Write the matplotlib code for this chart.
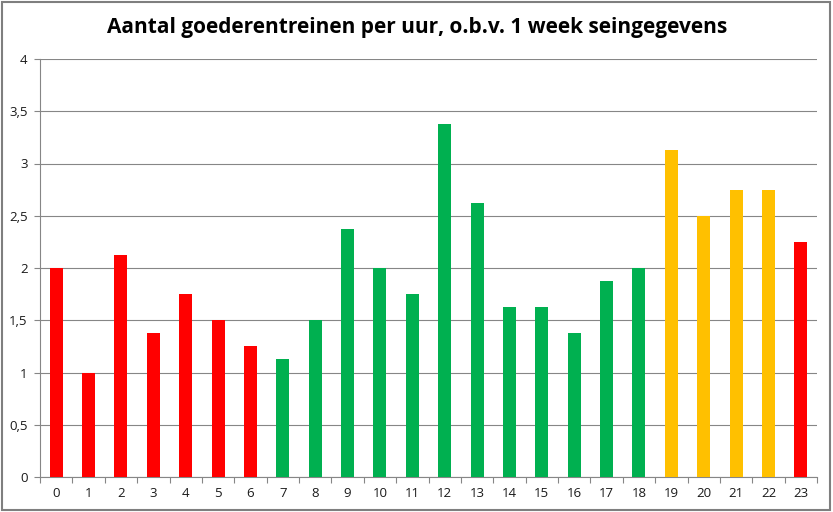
import matplotlib
matplotlib.use("Agg")
import matplotlib.pyplot as plt
from matplotlib.patches import Rectangle
from matplotlib.ticker import FixedLocator, NullFormatter

hours = [str(h) for h in range(24)]
values = [2, 1, 2.125, 1.375, 1.75, 1.5, 1.25, 1.125, 1.5, 2.375, 2, 1.75,
          3.375, 2.625, 1.625, 1.625, 1.375, 1.875, 2, 3.125, 2.5, 2.75, 2.75, 2.25]
groups = ['r'] * 7 + ['g'] * 12 + ['y'] * 4 + ['r']
palette = {'r': '#FF0000', 'g': '#00B050', 'y': '#FFC000'}
yticks = [0, 0.5, 1, 1.5, 2, 2.5, 3, 3.5, 4]
ylabels = ['0', '0,5', '1', '1,5', '2', '2,5', '3', '3,5', '4']
title = 'Aantal goederentreinen per uur, o.b.v. 1 week seingegevens'

plt.rcParams['font.family'] = ['Open Sans', 'DejaVu Sans']

fig = plt.figure(figsize=(8.33, 5.12), dpi=100)
ax = fig.add_axes([40/833, 35/512, 777/833, 418/512])

x = list(range(24))
ax.bar(x, values, width=0.4, color=[palette[g] for g in groups], zorder=3)
ax.set_xlim(-0.5, 23.5)
ax.set_ylim(0, 4)
ax.set_yticks(yticks)
ax.set_yticklabels(ylabels, fontsize=9.5, color='#1a1a1a')
ax.set_xticks(x)
ax.set_xticklabels(hours, fontsize=9.5, color='#1a1a1a')
ax.tick_params(axis='x', which='major', length=0, pad=7)
ax.xaxis.set_minor_locator(FixedLocator([i - 0.5 for i in range(25)]))
ax.xaxis.set_minor_formatter(NullFormatter())
ax.tick_params(axis='x', which='minor', length=4, color='#868686', width=0.8)
ax.tick_params(axis='y', length=4, color='#868686', width=0.8, pad=5)
ax.grid(axis='y', color='#868686', linewidth=0.8, zorder=0)
for s in ['top', 'right']:
    ax.spines[s].set_visible(False)
for s in ['left', 'bottom']:
    ax.spines[s].set_color('#868686')
    ax.spines[s].set_linewidth(0.8)

fig.text(417/833, 1 - 28/512, title, ha='center', va='center',
         fontsize=15, fontweight='bold', color='black')

fig.patches.append(Rectangle((2/833, 2/512), 828/833, 508/512, transform=fig.transFigure,
                             fill=False, edgecolor='#7F7F7F', linewidth=1.5))

fig.savefig('out.png', dpi=100)
